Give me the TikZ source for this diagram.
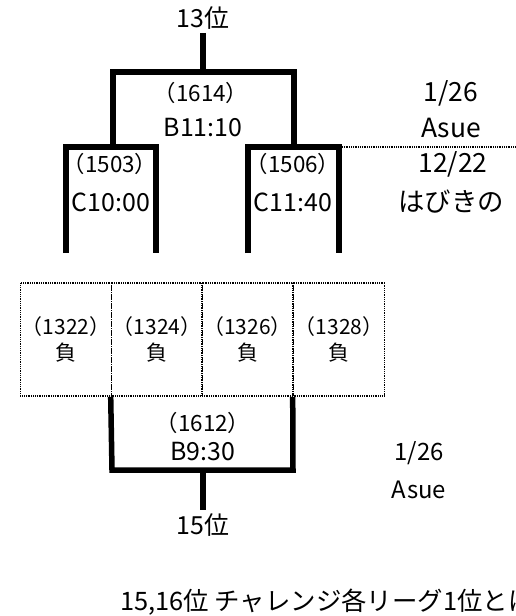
\documentclass[tikz,border=0pt]{standalone}
\usepackage{fontspec}
\setmainfont{Noto Sans CJK JP}

\begin{document}
\begin{tikzpicture}[x=1bp, y=-1bp,
  bracket/.style={line width=5.5bp, line join=miter},
  dotline/.style={line width=1.6bp, dash pattern=on 0.9bp off 0.9bp},
  lose/.style={dotline, draw, minimum width=91bp, minimum height=113bp,
    align=center, inner sep=0pt, font=\fontsize{21}{26}\selectfont},
  rank/.style={font=\fontsize{25}{28}\selectfont},
  game/.style={font=\fontsize{22.5}{24}\selectfont},
  time/.style={font=\fontsize{25}{28}\selectfont},
  day/.style={font=\fontsize{26.5}{28}\selectfont}]

\useasboundingbox (0,0) rectangle (516,616);

% top final
\node[rank] (r13) at (203,18) {13位};
\coordinate (top) at (203,33);
\coordinate (f1) at (113,147);
\coordinate (f2) at (294,147);
\draw[bracket] (top) -- (203,72);
\draw[bracket] (f1) -- (113,72) -- (294,72) -- (f2);
\node[game] (g1614) at (201,93) {（1614）};
\node[time] (t1614) at (203,128) {B11:10};

\node[day] (d1) at (451,93) {1/26};
\node[day] (v1) at (451,128) {Asue};
\node[day] (d2) at (453,164) {12/22};
\node[day] (v2) at (451,202) {はびきの};
\coordinate (s1) at (342,147);
\coordinate (s2) at (516,147);
\draw[dotline] (s1) -- (s2);

% semi finals
\coordinate (a1) at (66,253);
\coordinate (a2) at (156,253);
\coordinate (b1) at (248,253);
\coordinate (b2) at (339,253);
\draw[bracket] (a1) -- (66,147) -- (156,147) -- (a2);
\draw[bracket] (b1) -- (248,147) -- (339,147) -- (b2);
\node[game] (g1503) at (110,164) {（1503）};
\node[time] (t1503) at (111,202) {C10:00};
\node[game] (g1506) at (293,164) {（1506）};
\node[time] (t1506) at (293,202) {C11:40};

% losers
\node[lose] (m1322) at (66,339.5) {（1322）\\負};
\node[lose] (m1324) at (157,339.5) {（1324）\\負};
\node[lose] (m1326) at (247.5,339.5) {（1326）\\負};
\node[lose] (m1328) at (339,339.5) {（1328）\\負};

% 15th place
\draw[bracket] (m1324.south west) -- (112,470) -- (293,470) -- (m1328.south west);
\node[rank] (r15) at (203,525) {15位};
\draw[bracket] (203,470) -- (r15.north);
\node[game] (g1612) at (203,423) {（1612）};
\node[time] (t1612) at (203,452) {B9:30};
\node[day, font=\fontsize{24}{28}\selectfont] (d3) at (419,453) {1/26};
\node[day, font=\fontsize{24}{28}\selectfont] (v3) at (419,490) {Asue};

\node[anchor=west, inner sep=0pt, font=\fontsize{25.5}{28}\selectfont] (note) at (120,602)
  {15,16位 チャレンジ各リーグ1位とは};

\end{tikzpicture}
\end{document}
